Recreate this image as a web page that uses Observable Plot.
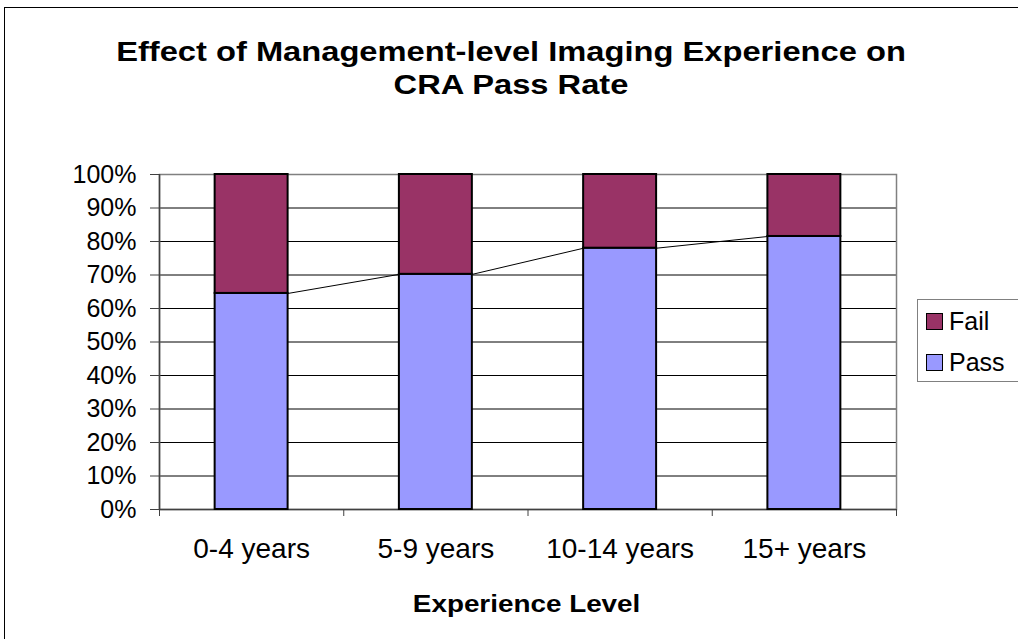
<!DOCTYPE html>
<html>
<head>
<meta charset="utf-8">
<script src="https://cdn.jsdelivr.net/npm/d3@7"></script>
<script src="https://cdn.jsdelivr.net/npm/@observablehq/plot@0.6"></script>
<style>
  html, body { margin: 0; padding: 0; background: #fff; overflow: hidden; }
  body { width: 1018px; height: 639px; position: relative; font-family: Arial, "Liberation Sans", sans-serif; }
  #border { position: absolute; left: 4px; top: 7px; width: 1100px; height: 700px; border: 1px solid #000; box-sizing: border-box; pointer-events: none; }
  #title { position: absolute; left: 0; width: 1022px; top: 36px; text-align: center; font-weight: bold; font-size: 27px; line-height: 33px; color: #000; transform: scaleX(1.21); transform-origin: 511px 0; white-space: nowrap; }
  #xtitle { position: absolute; left: 159px; width: 735px; top: 590px; text-align: center; font-weight: bold; font-size: 24px; line-height: 28px; transform: scaleX(1.16); transform-origin: 367px 0; white-space: nowrap; }
  #legend { position: absolute; left: 917px; top: 299px; width: 120px; height: 83px; border: 1.5px solid #808080; box-sizing: border-box; background: #fff; }
  .li { position: absolute; left: 8px; height: 26px; font-size: 25px; line-height: 26px; display: flex; align-items: center; }
  .sw { width: 15px; height: 15px; border: 1.5px solid #000; margin-right: 6px; }
  #chart { position: absolute; left: 0; top: 0; }
</style>
</head>
<body>
<div id="chart"></div>
<div id="title">Effect of Management-level Imaging Experience on<br>CRA Pass Rate</div>
<div id="xtitle">Experience Level</div>
<div id="legend"></div>
<div id="border"></div>
<script>
const categories = ["0-4 years", "5-9 years", "10-14 years", "15+ years"];
const passValues = [64.5, 70.2, 78.0, 81.5];
const failValues = [35.5, 29.8, 22.0, 18.5];
const seriesNames = ["Fail", "Pass"];
const seriesColors = ["#993366", "#9999FF"];
const yTicks = [0, 10, 20, 30, 40, 50, 60, 70, 80, 90, 100];

const half = 0.198; // half bar width in category units
const idx = categories.map((_, i) => i);
const rows = [];
idx.forEach(i => {
  rows.push({i, series: "Pass", y1: 0, y2: passValues[i]});
  rows.push({i, series: "Fail", y1: passValues[i], y2: passValues[i] + failValues[i]});
});
const links = idx.slice(0, -1).map(i => ({x1: i + half, y1: passValues[i], x2: i + 1 - half, y2: passValues[i + 1]}));
const boundaries = d3.range(categories.length + 1).map(i => i - 0.5);

const chart = Plot.plot({
  width: 1018,
  height: 639,
  marginLeft: 159,
  marginRight: 122,
  marginTop: 174,
  marginBottom: 130,
  style: {fontFamily: "Arial, 'Liberation Sans', sans-serif", fontSize: "20px", color: "#000", background: "transparent", overflow: "visible"},
  x: {domain: [-0.5, categories.length - 0.5], axis: null},
  y: {domain: [0, 100], axis: null},
  color: {domain: seriesNames, range: seriesColors},
  marks: [
    Plot.ruleY(yTicks.filter(t => t > 0 && t < 100), {stroke: "#000", strokeWidth: 1}),
    Plot.frame({stroke: "#808080", strokeWidth: 1.5}),
    Plot.axisY(yTicks, {anchor: "left", tickSize: 9, tickPadding: 14, tickFormat: d => d + "%", label: null, stroke: "#404040", fontSize: 25}),
    Plot.axisX(boundaries, {anchor: "bottom", tickSize: 7, tickFormat: () => "", label: null, stroke: "#404040"}),
    Plot.axisX(idx, {anchor: "bottom", tickSize: 0, tickPadding: 29, tickFormat: i => categories[i], label: null, fontSize: 28}),
    Plot.ruleX([-0.5], {stroke: "#404040", strokeWidth: 1.5}),
    Plot.ruleY([0], {stroke: "#404040", strokeWidth: 1.5}),
    Plot.rect(rows, {x1: d => d.i - half, x2: d => d.i + half, y1: "y1", y2: "y2", fill: "series", stroke: "#000", strokeWidth: 2}),
    Plot.link(links, {x1: "x1", y1: "y1", x2: "x2", y2: "y2", stroke: "#000", strokeWidth: 1})
  ]
});
document.getElementById("chart").appendChild(chart);

const legend = document.getElementById("legend");
seriesNames.forEach((name, k) => {
  const item = document.createElement("div");
  item.className = "li";
  item.style.top = (8 + k * 41) + "px";
  const sw = document.createElement("div");
  sw.className = "sw";
  sw.style.background = seriesColors[k];
  item.appendChild(sw);
  item.appendChild(document.createTextNode(name));
  legend.appendChild(item);
});
</script>
</body>
</html>
